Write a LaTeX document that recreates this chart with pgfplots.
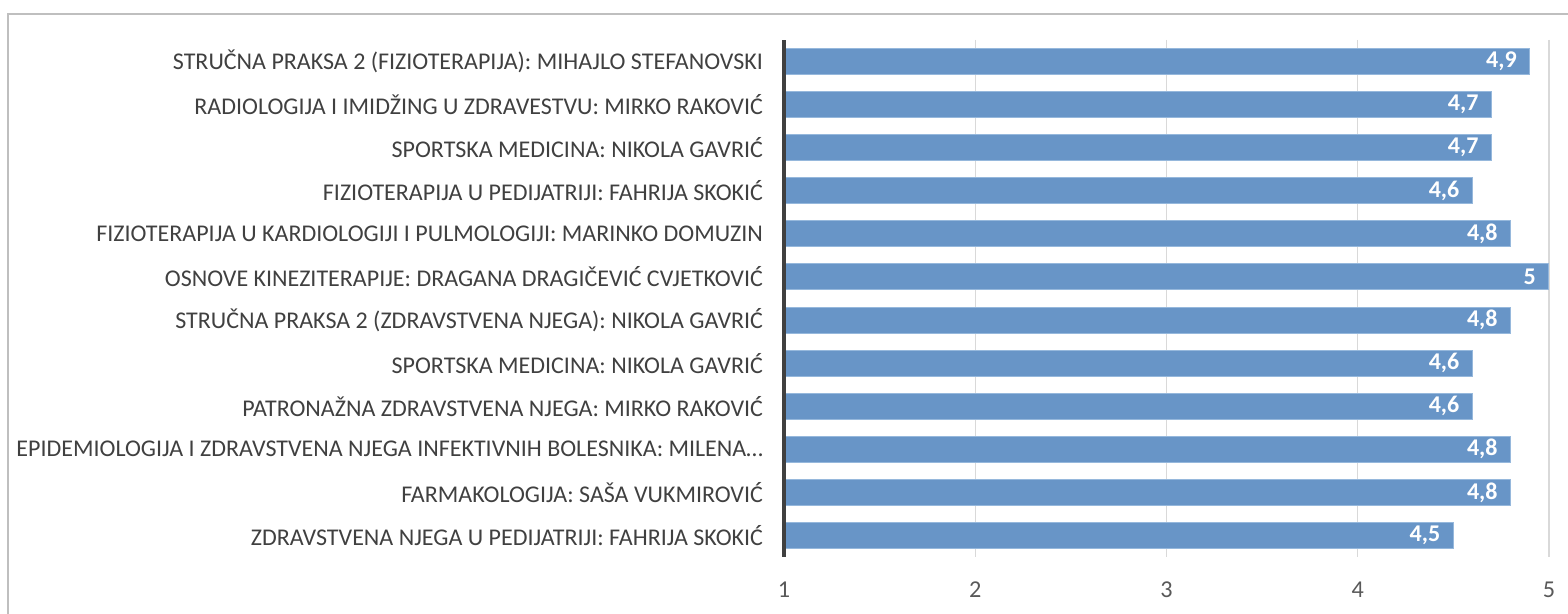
\documentclass[border=0pt]{standalone}
\usepackage{pgfplots}
\pgfplotsset{compat=1.18}
\usepackage{fontspec}
\setmainfont{Carlito}
\definecolor{barblue}{RGB}{104,149,199}
\definecolor{baredge}{RGB}{150,184,220}
\definecolor{labelgray}{RGB}{64,64,64}
\definecolor{tickgray}{RGB}{89,89,89}
\definecolor{gridgray}{RGB}{217,217,217}
\definecolor{framegray}{RGB}{191,191,191}
\begin{document}
\begin{tikzpicture}
% picture box: 1568x614 px at 0.5pt per px, axis corner at (784,557) px
\useasboundingbox (-392pt,-28.5pt) rectangle (392pt,278.5pt);
\clip (-392pt,-28.5pt) rectangle (392pt,278.5pt);
\draw[framegray, line width=1pt] (-388pt,271.5pt) rectangle (400pt,-40pt);
\begin{axis}[
    at={(0,0)}, anchor=south west,
    scale only axis,
    width=382.5pt, height=258.5pt,
    xbar, bar width=13pt,
    xmin=1, xmax=5,
    ymin=-0.5, ymax=11.5,
    y dir=reverse,
    axis line style={draw=none},
    xtick={1,2,3,4,5},
    ytick={0,...,11},
    yticklabels={
        STRUČNA PRAKSA 2 (FIZIOTERAPIJA): MIHAJLO STEFANOVSKI,
        RADIOLOGIJA I IMIDŽING U ZDRAVESTVU: MIRKO RAKOVIĆ,
        SPORTSKA MEDICINA: NIKOLA GAVRIĆ,
        FIZIOTERAPIJA U PEDIJATRIJI: FAHRIJA SKOKIĆ,
        FIZIOTERAPIJA U KARDIOLOGIJI I PULMOLOGIJI: MARINKO DOMUZIN,
        OSNOVE KINEZITERAPIJE: DRAGANA DRAGIČEVIĆ CVJETKOVIĆ,
        STRUČNA PRAKSA 2 (ZDRAVSTVENA NJEGA): NIKOLA GAVRIĆ,
        SPORTSKA MEDICINA: NIKOLA GAVRIĆ,
        PATRONAŽNA ZDRAVSTVENA NJEGA: MIRKO RAKOVIĆ,
        EPIDEMIOLOGIJA I ZDRAVSTVENA NJEGA INFEKTIVNIH BOLESNIKA: MILENA…,
        FARMAKOLOGIJA: SAŠA VUKMIROVIĆ,
        ZDRAVSTVENA NJEGA U PEDIJATRIJI: FAHRIJA SKOKIĆ},
    major tick length=0pt,
    xmajorgrids=true,
    grid style={gridgray, line width=0.6pt},
    yticklabel style={font=\fontsize{12}{13}\selectfont, text=labelgray, xshift=-7pt},
    xticklabel style={font=\fontsize{12.1}{13}\selectfont, text=tickgray, yshift=-9pt},
    /pgf/number format/assume math mode=true,
    /pgf/number format/use comma,
    /pgf/number format/fixed,
    /pgf/number format/precision=1,
    nodes near coords,
    nodes near coords style={font=\bfseries\fontsize{12}{13}\selectfont, text=white, anchor=east, xshift=-3pt},
    clip=true,
]
\addplot[fill=barblue, draw=baredge, line width=0.5pt] coordinates {
    (4.9,0) (4.7,1) (4.7,2) (4.6,3) (4.8,4) (5,5)
    (4.8,6) (4.6,7) (4.6,8) (4.8,9) (4.8,10) (4.5,11)
};
\end{axis}
\draw[labelgray, line width=1.6pt] (0,0) -- (0,258.5pt);
\end{tikzpicture}
\end{document}
